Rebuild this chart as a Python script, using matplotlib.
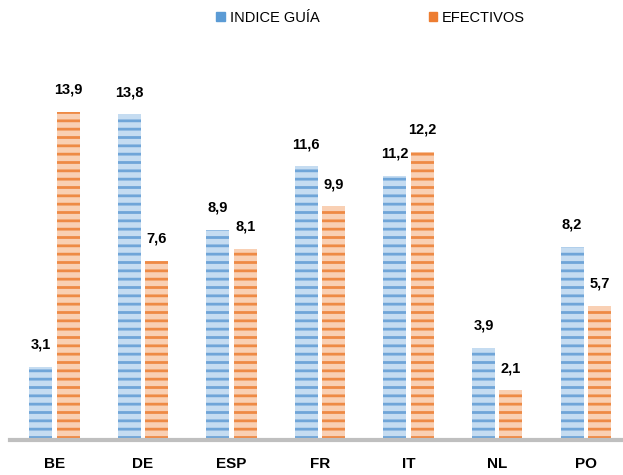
import numpy as np
import matplotlib.pyplot as plt

paises = ['BE', 'DE', 'ESP', 'FR', 'IT', 'NL', 'PO']
indice_guia = [3.1, 13.8, 8.9, 11.6, 11.2, 3.9, 8.2]
efectivos = [13.9, 7.6, 8.1, 9.9, 12.2, 2.1, 5.7]

plt.rcParams['font.family'] = ['Liberation Sans Narrow', 'Liberation Sans', 'DejaVu Sans']
plt.rcParams['hatch.linewidth'] = 2.0

fig = plt.figure(figsize=(6.23, 4.75), dpi=100)
ax = fig.add_axes([10/623, 35/475, 613/623, 401/475])

x = np.arange(len(paises))
w = 0.26
off = 0.155

b1 = ax.bar(x - off, indice_guia, w, color='#C5DCF1', edgecolor='#6FA5D8',
            hatch='--', linewidth=0, label='INDICE GUÍA')
b2 = ax.bar(x + off, efectivos, w, color='#F9D0B4', edgecolor='#EE8A45',
            hatch='--', linewidth=0, label='EFECTIVOS')

for bars, vals in [(b1, indice_guia), (b2, efectivos)]:
    for r, v in zip(bars, vals):
        ax.text(r.get_x() + r.get_width()/2, v + 0.65, ('%.1f' % v).replace('.', ','),
                ha='center', va='bottom', fontsize=10.5, fontweight='bold',
                family=['Liberation Sans', 'DejaVu Sans'])

ax.set_xlim(-0.5, 6.42)
ax.set_ylim(0, 17)
ax.set_xticks(x)
ax.set_xticklabels(paises, fontsize=11, fontweight='bold', family=['Liberation Sans', 'DejaVu Sans'])
ax.tick_params(axis='x', length=0, pad=12)
ax.set_yticks([])
for s in ['top', 'right', 'left']:
    ax.spines[s].set_visible(False)
ax.spines['bottom'].set_color('#BFBFBF')
ax.spines['bottom'].set_linewidth(3)

leg = fig.legend(handles=[plt.Rectangle((0, 0), 1, 1, color='#5B9BD5'),
                          plt.Rectangle((0, 0), 1, 1, color='#ED7D31')],
                 labels=['INDICE GUÍA', 'EFECTIVOS'], loc='upper center',
                 bbox_to_anchor=(0.595, 1.005), ncol=2, frameon=False, fontsize=10.5,
                 handlelength=0.6, handleheight=0.6, handletextpad=0.3, columnspacing=7.5)

fig.savefig('out.png', dpi=100)
